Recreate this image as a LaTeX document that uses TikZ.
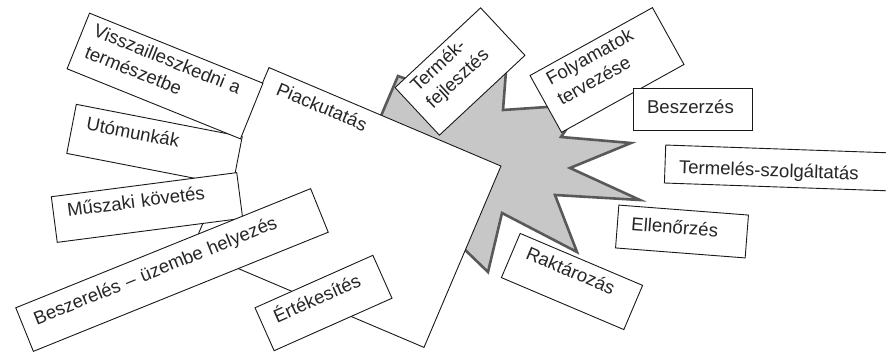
\documentclass[tikz,border=0pt]{standalone}
\usepackage{fontspec}
\setmainfont{Liberation Sans}
\tikzset{
	doboz/.style={draw=black!90, line width=0.9pt, fill=white, text=black!85,
		inner xsep=14pt, inner ysep=0pt, align=left,
		font=\fontsize{18.6}{23}\selectfont},
	csillag/.style={fill=black!22, draw=black!65, line width=2.6pt, line join=miter}
}

\begin{document}
\begin{tikzpicture}[x=1pt,y=-1pt]
	\clip (0,0) rectangle (886,353);
	\fill[white] (0,0) rectangle (886,353);
	
	\filldraw[csillag] (375,130) -- (398,76) -- (450,95) -- (508,45) -- (503,110) -- (547,107)
	-- (590,95) -- (561,137) -- (631,143) -- (570,168) -- (640,200) -- (555,195)
	-- (577,252) -- (502,213) -- (488,272) -- (460,245) -- (440,200) -- cycle;
	
	\node[doboz, rotate=-23, inner xsep=16pt, text width=220pt, text height=22pt, text depth=175pt] (piac) at (346.5,207.5) {Piackutatás};
	
	\node[doboz, rotate=-11, text width=141pt, text height=23pt, text depth=27pt] (utomunka) at (154.5,145) {Utómunkák};
	\node[doboz, rotate=-22, inner xsep=11pt, text width=165pt, text height=20pt, text depth=40pt] (vissza) at (165,76) {Visszailleszkedni a\\természetbe};
	\node[doboz, rotate=7.4, text width=159pt, text height=22pt, text depth=24pt] (muszaki) at (147,207.5) {Műszaki követés};
	\node[doboz, rotate=22, inner xsep=13pt, text width=292pt, text height=24pt, text depth=23pt] (beszereles) at (172,270) {Beszerelés – üzembe helyezés};
	\node[doboz, rotate=24, text width=101pt, text height=23pt, text depth=24pt] (ertekesites) at (323.5,303) {Értékesítés};
	
	\node[doboz, rotate=43, inner xsep=13pt, text width=91pt, text height=19pt, text depth=46pt] (termek) at (460,71.5) {Termék-\\fejlesztés};
	\node[doboz, rotate=29, inner xsep=13pt, text width=114pt, text height=19pt, text depth=46pt] (folyamat) at (607,70) {Folyamatok\\tervezése};
	\node[doboz, text width=91pt, text height=25pt, text depth=17pt] (beszerzes) at (692.5,109) {Beszerzés};
	\node[doboz, rotate=-2, text width=200pt, text height=28pt, text depth=10pt] (termeles) at (779,168) {Termelés-szolgáltatás};
	\node[doboz, rotate=-4.4, text width=102pt, text height=24pt, text depth=19pt] (ellenorzes) at (682,231.5) {Ellenőrzés};
	\node[doboz, rotate=-23, text width=105pt, text height=21pt, text depth=27pt] (raktar) at (572,281.5) {Raktározás};
\end{tikzpicture}
\end{document}
